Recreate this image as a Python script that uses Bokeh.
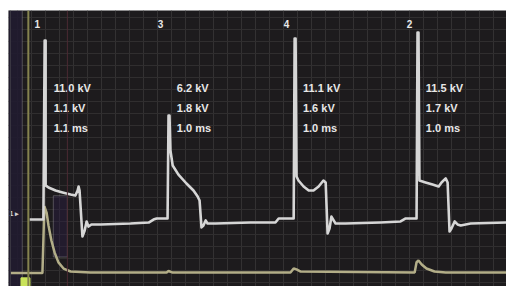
from bokeh.plotting import figure
from bokeh.models import Range1d, SingleIntervalTicker, BoxAnnotation, Span
from bokeh.core.properties import value
from bokeh.embed import file_html
from bokeh.resources import INLINE

# Secondary ignition trace (time in ms, voltage in kV)
sec_t = [-0.49, -0.06, -0.02, 0.01, 0.01, 0.10, 0.32, 0.54, 0.79, 0.94, 1.01, 1.04, 1.07,
         1.16, 1.23, 1.29, 1.35, 1.44, 1.73, 2.66, 3.23, 3.38, 3.48, 3.82,
         3.85, 3.88, 3.91, 3.98, 4.16, 4.41, 4.63, 4.76, 4.82, 4.88, 4.94, 5.01, 5.07, 5.32,
         6.41, 7.19, 7.29, 7.76,
         7.79, 7.82, 7.85, 7.91, 8.07, 8.23, 8.38, 8.54, 8.69, 8.76, 8.82, 8.88, 8.94, 9.01,
         9.07, 9.38, 10.47, 11.10, 11.26, 11.60,
         11.63, 11.66, 11.69, 11.88, 12.10, 12.29, 12.38, 12.51, 12.57, 12.63, 12.69, 12.79,
         12.88, 12.98, 13.29, 14.41]
sec_kv = [0.14, 0.14, 10.37, 10.37, 2.09, 1.97, 1.80, 1.69, 1.57, 1.51, 1.80, 2.03, 1.80,
          -0.83, -0.49, 0.03, -0.26, -0.14, -0.14, -0.09, -0.03, 0.14, 0.20, 0.20,
          6.09, 6.09, 4.09, 3.23, 2.71, 2.20, 1.80, 1.46, 1.23, -0.31, -0.20, 0.09, -0.09, -0.09,
          -0.03, -0.03, 0.20, 0.20,
          10.49, 10.49, 2.60, 2.37, 2.03, 1.80, 1.80, 2.03, 2.37, 2.26, -0.66, -0.37, 0.31, 0.09,
          -0.09, -0.09, -0.03, 0.03, 0.20, 0.20,
          10.83, 10.83, 2.37, 2.26, 2.14, 2.03, 2.26, 2.49, 2.26, -0.54, -0.37, 0.03,
          -0.14, -0.20, -0.09, -0.03]

# Primary / current trace
pri_t = [-1.09, -0.09, -0.06, -0.03, 0.04, 0.10, 0.19, 0.29, 0.41, 0.57, 0.79, 1.41,
         3.79, 3.85, 3.98, 7.66, 7.76, 7.85, 7.98, 11.54, 11.60, 11.66, 11.76, 11.91,
         12.16, 12.51, 14.41]
pri_kv = [-2.92, -2.92, -1.06, 0.90, 0.54, -0.20, -1.06, -1.74, -2.31, -2.66, -2.83, -2.89,
          -2.89, -2.80, -2.89, -2.89, -2.66, -2.71, -2.83, -2.89, -2.30, -2.20, -2.43, -2.66,
          -2.83, -2.89, -2.89]

cylinders = ["1", "3", "4", "2"]
spike_t = [0.0, 3.85, 7.79, 11.63]
peak_kv = ["11.0 kV", "6.2 kV", "11.1 kV", "11.5 kV"]
burn_kv = ["1.1 kV", "1.8 kV", "1.6 kV", "1.7 kV"]
burn_ms = ["1.1 ms", "1.0 ms", "1.0 ms", "1.0 ms"]

BG = "#1d1b1d"
p = figure(width=506, height=286, output_backend="svg", toolbar_location=None,
           x_range=Range1d(-1.15, 14.41), y_range=Range1d(-3.686, 12.086),
           min_border_left=8, min_border_top=10, min_border_right=0, min_border_bottom=0,
           background_fill_color=BG, border_fill_color="white",
           outline_line_color=None)
p.axis.visible = False
p.xgrid.ticker = SingleIntervalTicker(interval=0.4375)
p.ygrid.ticker = SingleIntervalTicker(interval=0.686)
p.xgrid.grid_line_color = "#333132"
p.ygrid.grid_line_color = "#302e2f"
p.grid.grid_line_width = 1

# decorative bands
p.add_layout(BoxAnnotation(left=-1.15, right=-0.72, fill_color="#211c30", fill_alpha=0.9, level="underlay"))
p.add_layout(BoxAnnotation(left=0.25, right=0.69, bottom=-2.0, top=1.5, fill_color="#2a1d42", fill_alpha=0.45, level="underlay"))
p.add_layout(Span(location=0.69, dimension="height", line_color="#4a2a33", line_width=1))
p.add_layout(Span(location=-1.09, dimension="height", line_color="#3c3a44", line_width=1))
p.add_layout(Span(location=-0.53, dimension="height", line_color="#85834f", line_width=2))

# traces
p.line(pri_t, pri_kv, line_color="#b3ae88", line_width=2.5)
p.line(sec_t, sec_kv, line_color="#d6d6d6", line_width=2.6, line_join="round")

# channel marker and trigger marker
p.text(x=[-1.12], y=[0.5], text=["1 ▸"], text_color="#cfcfcf", text_font_size="7px",
       text_font=value("Liberation Sans"), text_font_style="bold", text_baseline="middle")
p.scatter(x=[-0.62], y=[-3.45], size=9, marker="square", color="#c9e35a")

# labels
num_x = [t - 0.25 for t in spike_t]
txt_x = [t + 0.26 for t in spike_t]
common = dict(text_color="#e8e8e8", text_font=value("Liberation Sans"), text_font_style="bold",
              text_baseline="middle")
p.text(x=num_x, y=[11.34] * 4, text=cylinders, text_font_size="10px", text_align="center", **common)
p.text(x=txt_x, y=[7.63] * 4, text=peak_kv, text_font_size="11px", **common)
p.text(x=txt_x, y=[6.54] * 4, text=burn_kv, text_font_size="11px", **common)
p.text(x=txt_x, y=[5.40] * 4, text=burn_ms, text_font_size="11px", **common)

open("out.html", "w").write(file_html(p, INLINE))
